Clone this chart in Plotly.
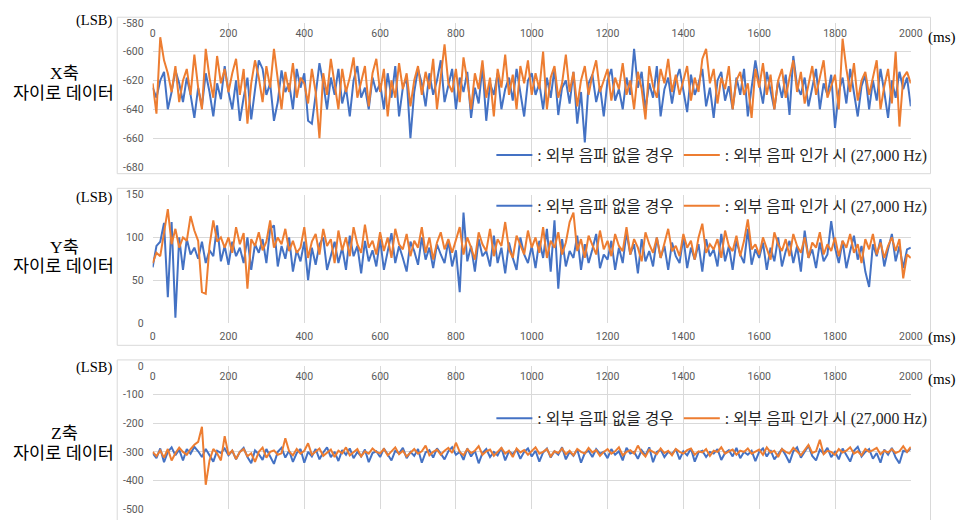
import plotly.graph_objects as go

# ---- data -------------------------------------------------------------
time_ms = list(range(0, 2001, 10))

x_quiet = [
    -625, -632, -620, -614, -640, -628, -613, -622, -635, -618, -630, -646, -625, -638, -615, -628, -645, -622, -633, -610,
    -628, -640, -620, -648, -632, -618, -647, -626, -606, -612, -630, -622, -648, -635, -613, -628, -622, -640, -612, -625,
    -615, -648, -650, -630, -608, -622, -640, -618, -630, -612, -636, -625, -645, -620, -610, -632, -625, -640, -618, -628,
    -622, -640, -615, -632, -610, -645, -625, -618, -660, -628, -612, -622, -638, -615, -630, -620, -606, -635, -624, -612,
    -640, -618, -628, -614, -646, -625, -636, -610, -648, -622, -630, -615, -640, -626, -618, -634, -612, -628, -645, -620,
    -615, -630, -622, -640, -618, -632, -612, -644, -625, -620, -636, -614, -650, -628, -663, -622, -616, -635, -624, -645,
    -620, -612, -634, -626, -640, -618, -630, -598, -625, -614, -640, -622, -632, -610, -645, -626, -618, -636, -620, -612,
    -628, -642, -616, -630, -622, -612, -638, -625, -646, -620, -614, -634, -624, -640, -618, -630, -612, -645, -625, -606,
    -622, -636, -614, -628, -640, -620, -632, -616, -644, -603, -624, -630, -618, -638, -626, -612, -640, -622, -630, -616,
    -653, -628, -618, -636, -612, -630, -645, -624, -616, -640, -620, -634, -612, -628, -646, -620, -632, -614, -626, -618,
    -638,
]
x_sound = [
    -622, -643, -590, -606, -615, -628, -610, -635, -620, -612, -630, -602, -625, -640, -598, -618, -632, -603, -622, -612,
    -628, -615, -605, -630, -612, -650, -622, -606, -618, -635, -610, -625, -598, -620, -640, -614, -628, -608, -632, -618,
    -622, -636, -612, -628, -660, -615, -630, -605, -622, -640, -612, -628, -618, -604, -632, -620, -610, -638, -615, -605,
    -628, -612, -645, -620, -632, -608, -626, -615, -638, -620, -610, -630, -614, -626, -605, -640, -618, -595, -622, -628,
    -612, -635, -604, -620, -640, -615, -626, -606, -632, -618, -645, -612, -625, -602, -630, -616, -640, -610, -622, -606,
    -630, -615, -626, -600, -640, -618, -610, -632, -622, -602, -628, -614, -638, -620, -610, -630, -616, -606, -628, -620,
    -612, -634, -618, -626, -608, -630, -620, -640, -614, -626, -647, -610, -624, -632, -612, -622, -605, -628, -616, -630,
    -620, -610, -634, -618, -628, -605, -598, -622, -612, -636, -618, -626, -610, -640, -620, -614, -630, -622, -646, -612,
    -625, -608, -630, -616, -640, -620, -612, -632, -618, -606, -628, -614, -636, -622, -610, -630, -618, -606, -632, -624,
    -616, -640, -591, -612, -628, -608, -634, -620, -614, -630, -618, -606, -640, -624, -612, -636, -600, -652, -618, -614,
    -622,
]

y_quiet = [
    65, 90, 95, 117, 30, 118, 6, 100, 62, 98, 80, 88, 75, 95, 70, 85, 78, 114, 72, 90,
    68, 95, 78, 88, 70, 100, 62, 92, 82, 98, 70, 110, 114, 66, 90, 75, 100, 60, 85, 72,
    95, 50, 88, 68, 92, 100, 62, 80, 95, 70, 88, 62, 102, 78, 90, 58, 96, 72, 85, 66,
    98, 62, 82, 105, 70, 90, 76, 60, 95, 84, 68, 100, 74, 88, 64, 92, 80, 70, 96, 66,
    85, 36, 129, 72, 90, 60, 98, 78, 84, 66, 102, 70, 88, 58, 94, 76, 62, 100, 80, 70,
    90, 64, 96, 76, 110, 60, 120, 40, 98, 66, 84, 76, 102, 62, 92, 70, 86, 104, 64, 80,
    74, 96, 62, 88, 70, 106, 80, 92, 58, 98, 72, 84, 66, 100, 76, 90, 62, 94, 78, 70,
    100, 64, 88, 74, 92, 60, 98, 78, 86, 66, 104, 72, 90, 62, 96, 80, 70, 110, 68, 86,
    76, 94, 62, 88, 72, 100, 66, 84, 96, 70, 90, 60, 108, 76, 86, 64, 94, 72, 80, 119,
    88, 70, 96, 64, 84, 102, 74, 90, 60, 42, 92, 78, 98, 66, 86, 104, 72, 90, 64, 86,
    88,
]
y_sound = [
    70, 82, 78, 105, 133, 92, 110, 88, 100, 96, 125, 108, 96, 36, 34, 90, 120, 95, 100, 88,
    100, 82, 112, 92, 105, 40, 98, 90, 106, 85, 95, 120, 88, 100, 92, 110, 84, 96, 82, 88,
    112, 76, 95, 104, 80, 110, 90, 98, 70, 108, 85, 100, 78, 112, 92, 82, 115, 88, 96, 80,
    106, 84, 100, 76, 110, 92, 86, 104, 78, 96, 88, 112, 82, 100, 74, 94, 106, 86, 98, 82,
    96, 112, 80, 100, 88, 74, 106, 92, 84, 110, 78, 98, 90, 118, 86, 76, 102, 90, 80, 108,
    88, 100, 82, 112, 76, 96, 88, 106, 80, 94, 118, 129, 84, 98, 76, 102, 90, 80, 108, 86,
    96, 78, 104, 90, 84, 112, 80, 98, 88, 72, 106, 92, 82, 100, 76, 94, 110, 84, 90, 78,
    104, 88, 96, 74, 100, 116, 82, 92, 86, 98, 76, 108, 90, 84, 102, 78, 96, 121, 86, 92,
    80, 100, 88, 74, 106, 92, 84, 98, 78, 104, 90, 82, 100, 76, 94, 88, 106, 80, 92, 84,
    100, 78, 96, 88, 104, 82, 92, 70, 98, 86, 104, 80, 94, 76, 90, 100, 84, 98, 52, 80,
    76,
]

z_quiet = [
    -305, -322, -288, -336, -300, -284, -312, -292, -330, -290, -306, -282, -298, -318, -290, -310, -334, -296, -304, -288,
    -312, -296, -326, -300, -286, -318, -340, -295, -308, -328, -290, -316, -342, -300, -286, -320, -296, -335, -304, -290,
    -338, -300, -316, -290, -326, -302, -284, -318, -300, -332, -294, -310, -288, -322, -300, -316, -292, -336, -304, -298,
    -318, -288, -310, -330, -296, -306, -286, -322, -300, -314, -290, -338, -302, -294, -320, -288, -306, -326, -298, -284,
    -310, -300, -328, -288, -316, -296, -340, -304, -290, -318, -300, -312, -286, -330, -298, -308, -292, -324, -300, -288,
    -316, -296, -334, -302, -288, -320, -298, -310, -284, -326, -300, -314, -292, -338, -304, -296, -318, -290, -306, -300,
    -322, -290, -310, -298, -330, -286, -306, -300, -324, -294, -312, -284, -336, -300, -292, -318, -300, -308, -290, -326,
    -298, -312, -288, -334, -302, -296, -318, -300, -306, -290, -328, -304, -294, -316, -286, -322, -300, -310, -296, -332,
    -300, -288, -316, -294, -326, -306, -290, -312, -338, -298, -284, -320, -300, -278, -314, -330, -292, -306, -286, -318,
    -300, -326, -288, -310, -334, -296, -282, -316, -300, -290, -324, -304, -338, -292, -310, -286, -320, -340, -296, -300,
    -288,
]
z_sound = [
    -300, -315, -295, -320, -290, -330, -305, -285, -300, -310, -290, -275, -265, -212, -415, -330, -290, -305, -330, -245,
    -310, -295, -325, -300, -290, -315, -305, -335, -300, -285, -320, -300, -295, -310, -305, -252, -298, -312, -290, -306,
    -296, -270, -310, -300, -288, -314, -302, -292, -318, -296, -305, -284, -312, -300, -290, -316, -298, -306, -288, -300,
    -305, -290, -312, -298, -284, -308, -296, -316, -302, -290, -306, -298, -278, -312, -300, -292, -310, -296, -286, -304,
    -268, -300, -312, -290, -304, -296, -280, -310, -298, -292, -314, -300, -286, -306, -296, -318, -288, -302, -294, -310,
    -296, -284, -306, -300, -290, -316, -298, -304, -288, -308, -296, -312, -290, -300, -306, -286, -302, -294, -314, -300,
    -290, -306, -298, -284, -312, -300, -294, -306, -278, -302, -316, -292, -300, -308, -288, -304, -296, -312, -290, -300,
    -306, -294, -288, -310, -298, -302, -290, -314, -296, -300, -284, -306, -298, -292, -310, -296, -300, -288, -306, -298,
    -292, -310, -284, -302, -296, -318, -290, -300, -306, -286, -300, -312, -294, -276, -304, -298, -258, -308, -296, -300,
    -310, -290, -302, -296, -284, -306, -298, -312, -290, -300, -294, -286, -308, -296, -302, -290, -304, -298, -280, -300,
    -282,
]

series_names = [": 외부 음파 없을 경우", ": 외부 음파 인가 시 (27,000 Hz)"]
axis_titles = ["X축", "Y축", "Z축"]
x_ticks = list(range(0, 2001, 200))
y_ticks = [
    list(range(-680, -579, 20)),
    list(range(0, 151, 50)),
    list(range(-500, 1, 100)),
]

for s in (x_quiet, x_sound, y_quiet, y_sound, z_quiet, z_sound):
    assert len(s) == len(time_ms), len(s)

# ---- styling ----------------------------------------------------------
W, H = 975, 520
BLUE, ORANGE = "#4472C4", "#ED7D31"
GRID = "#d9d9d9"
TICK_FONT = dict(family="Roboto, Arial, sans-serif", size=10.5, color="#595959")
SERIF_KR = "Liberation Serif, Noto Sans CJK KR, serif"


def fx(p):
    return p / W


def fy(p):
    return 1 - p / H


# per-panel pixel layout: plot top/bottom, label rows, legend row, frame
panels = [
    dict(data=(x_quiet, x_sound), top=17.3, bottom=165, side="top",
         lsb=15, name_y=69, sub_y=89, legend_y=153, ms_y=32, frame=(11.5, 172)),
    dict(data=(y_quiet, y_sound), top=193.5, bottom=325, side="bottom",
         lsb=196, name_y=247, sub_y=267, legend_y=205, ms_y=340, frame=(187, 348)),
    dict(data=(z_quiet, z_sound), top=369.3, bottom=516, side="top",
         lsb=371, name_y=438, sub_y=458, legend_y=423, ms_y=383, frame=(363, 560)),
]

fig = go.Figure()
layout = dict(
    width=W, height=H,
    margin=dict(l=0, r=0, t=0, b=0),
    paper_bgcolor="white", plot_bgcolor="white",
    shapes=[], annotations=[],
)

for i, p in enumerate(panels):
    n = i + 1
    xa = "x" if n == 1 else f"x{n}"
    ya = "y" if n == 1 else f"y{n}"
    leg = "legend" if n == 1 else f"legend{n}"
    quiet, sound = p["data"]
    for vals, color, name in ((quiet, BLUE, series_names[0]), (sound, ORANGE, series_names[1])):
        fig.add_trace(go.Scatter(
            x=time_ms, y=vals, mode="lines", name=name,
            line=dict(color=color, width=2),
            xaxis=xa, yaxis=ya, legend=leg, hoverinfo="skip",
        ))

    yt = y_ticks[i]
    xaxis = dict(
        domain=[fx(152), fx(922)], range=[0, 2000], anchor=ya,
        tickvals=x_ticks, ticktext=[str(v) for v in x_ticks],
        showgrid=True, gridcolor=GRID, gridwidth=1,
        zeroline=False, showline=False, ticks="", tickfont=TICK_FONT,
        side=p["side"], fixedrange=True,
    )
    if p["side"] == "top":
        xaxis.update(ticklabelposition="inside", ticklabeloverflow="allow",
                     ticklabelstandoff=4)
    else:
        xaxis.update(ticklabelstandoff=6)
    yaxis = dict(
        domain=[fy(p["bottom"]), fy(p["top"])], range=[yt[0], yt[-1]], anchor=xa,
        tickvals=yt, ticktext=[str(v) for v in yt],
        showgrid=True, gridcolor=GRID, gridwidth=1,
        zeroline=False, showline=False, ticks="", tickfont=TICK_FONT,
        ticklabelstandoff=8, ticklabeloverflow="allow", fixedrange=True,
    )
    layout["xaxis" if n == 1 else f"xaxis{n}"] = xaxis
    layout["yaxis" if n == 1 else f"yaxis{n}"] = yaxis

    layout[leg] = dict(
        orientation="h", x=fx(496), xanchor="left",
        y=fy(p["legend_y"]), yanchor="middle",
        bgcolor="rgba(0,0,0,0)", borderwidth=0,
        font=dict(family=SERIF_KR, size=15.8, color="#262626"),
        itemwidth=36, tracegroupgap=0,
    )

    f0, f1 = p["frame"]
    layout["shapes"].append(dict(
        type="rect", xref="paper", yref="paper",
        x0=fx(116), x1=fx(942), y0=fy(f1), y1=fy(f0),
        line=dict(color=GRID, width=1), fillcolor="rgba(0,0,0,0)", layer="below",
    ))

    layout["annotations"] += [
        dict(text="(LSB)", x=fx(113), y=fy(p["lsb"]), xref="paper", yref="paper",
             xanchor="right", yanchor="middle", showarrow=False,
             font=dict(family=SERIF_KR, size=14.5, color="black")),
        dict(text=axis_titles[i], x=fx(62), y=fy(p["name_y"]), xref="paper", yref="paper",
             xanchor="center", yanchor="middle", showarrow=False,
             font=dict(family=SERIF_KR, size=17.5, color="black")),
        dict(text="자이로 데이터", x=fx(61), y=fy(p["sub_y"]), xref="paper", yref="paper",
             xanchor="center", yanchor="middle", showarrow=False,
             font=dict(family=SERIF_KR, size=17.5, color="black")),
        dict(text="(ms)", x=fx(937), y=fy(p["ms_y"]), xref="paper", yref="paper",
             xanchor="left", yanchor="middle", showarrow=False,
             font=dict(family=SERIF_KR, size=15, color="black")),
    ]

fig.update_layout(**layout)
# the figure is exactly the page size, so drop the default body margin
fig.write_html("out.html", post_script="document.body.style.margin='0px';")
